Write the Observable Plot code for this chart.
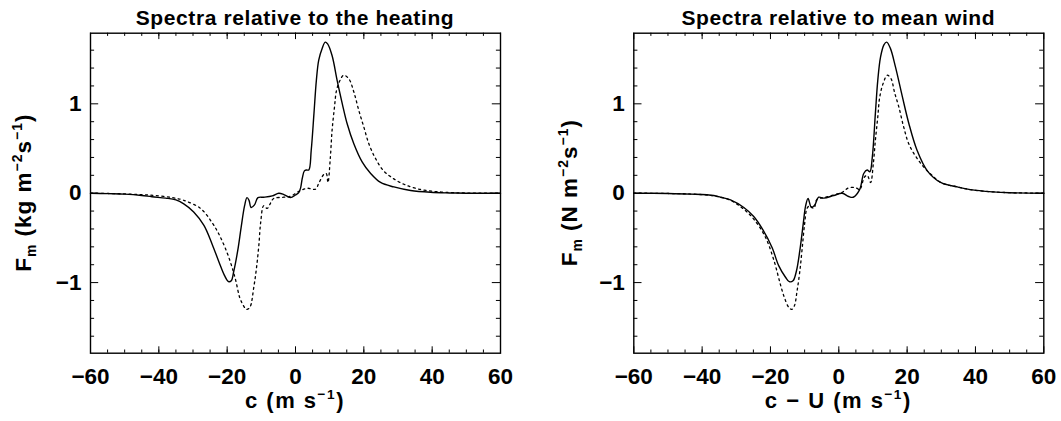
<!DOCTYPE html>
<html><head><meta charset="utf-8">
<script src="https://cdn.jsdelivr.net/npm/d3@7"></script>
<script src="https://cdn.jsdelivr.net/npm/@observablehq/plot@0.6"></script>
<style>
body{margin:0;background:#fff;}
#wrap{position:relative;width:1061px;height:421px;overflow:hidden;background:#fff;}
.panel{position:absolute;top:0;}
</style></head><body><div id="wrap"></div>
<script>
// ---- tick values ----
const xMajor = [-60, -40, -20, 0, 20, 40, 60];
const xMinor = d3.range(-55, 60, 5);
const yMajor = [-1, 0, 1];
const yMinor = [-1.6, -1.4, -1.2, -0.8, -0.6, -0.4, -0.2, 0.2, 0.4, 0.6, 0.8, 1.2, 1.4, 1.6];

// ---- left panel: spectra relative to the heating ----
const heatSolidC = [-60,-55,-50,-45,-42,-38,-35,-32.7,-29.8,-26.8,-24.4,-22.4,-20.8,-19.6,-18.8,-18.1,-16.9,-15.9,-14.9,-14.2,-13.6,-13.0,-12.0,-11.0,-9.3,-6.8,-4.9,-3.4,-1.5,0,1.0,1.5,2.0,2.6,3.2,3.9,4.6,5.4,6.1,6.8,7.8,8.7,9.4,10.7,12.2,13.7,15.1,17.1,19.5,22.0,24.9,28.8,33.7,39.5,45,50,60];
const heatSolidF = [0,-0.005,-0.01,-0.025,-0.04,-0.055,-0.075,-0.12,-0.21,-0.36,-0.57,-0.77,-0.92,-0.99,-0.98,-0.88,-0.64,-0.38,-0.14,-0.05,-0.08,-0.16,-0.13,-0.05,-0.045,-0.03,0.0,-0.015,-0.05,-0.02,0.01,0.06,0.17,0.25,0.26,0.26,0.48,0.89,1.26,1.49,1.62,1.69,1.67,1.54,1.26,1.0,0.78,0.55,0.35,0.22,0.12,0.07,0.03,0.01,0.003,0,0];
const heatDashC = [-60,-55,-50,-45,-41,-36,-32.7,-27.8,-24.4,-22.0,-19.5,-17.6,-16.3,-15.2,-14.4,-13.4,-12.2,-11.4,-10.7,-10.2,-9.3,-8.3,-7.3,-6.4,-3.4,-1.5,1.0,3.4,5.9,6.8,8.3,9.0,9.5,10.2,10.7,11.4,12.0,13.0,14.1,15.6,17.1,18.5,20.0,21.5,23.4,25.8,28.8,31.7,35.6,40.5,45,50,60];
const heatDashF = [0,-0.003,-0.008,-0.016,-0.026,-0.05,-0.08,-0.17,-0.33,-0.49,-0.72,-0.96,-1.17,-1.26,-1.3,-1.28,-1.05,-0.83,-0.57,-0.33,-0.14,-0.17,-0.11,-0.06,-0.045,-0.035,0.02,0.055,0.045,0.11,0.21,0.22,0.12,0.40,0.70,0.96,1.15,1.26,1.32,1.28,1.13,0.93,0.74,0.55,0.39,0.25,0.16,0.10,0.05,0.02,0.008,0.002,0];

// ---- right panel: spectra relative to mean wind ----
const windSolidC = [-60,-50,-43.4,-36.6,-34.6,-31.7,-27.8,-24.9,-22.2,-19.5,-17.6,-15.6,-14.5,-13.4,-12.4,-11.4,-10.4,-9.7,-9.0,-8.0,-7.0,-5.9,-4.4,-1.5,1.0,2.9,4.2,6.1,7.3,8.3,9.1,9.8,10.7,11.4,12.2,13.2,14.0,15.1,16.6,18.6,20.5,22.9,25.9,29.8,34.7,38.5,45,50,60];
const windSolidF = [0,-0.003,-0.01,-0.026,-0.045,-0.075,-0.16,-0.26,-0.41,-0.61,-0.81,-0.94,-0.99,-0.98,-0.87,-0.64,-0.34,-0.14,-0.06,-0.16,-0.13,-0.045,-0.055,-0.026,0.0,-0.037,-0.045,0.04,0.22,0.26,0.24,0.40,0.89,1.26,1.52,1.66,1.69,1.62,1.41,1.08,0.78,0.48,0.25,0.12,0.07,0.04,0.015,0.005,0];
const windDashC = [-60,-50,-43,-36.6,-31.7,-27.8,-24.9,-21.5,-19.0,-17.1,-15.9,-14.6,-13.8,-13.0,-12.2,-11.4,-10.7,-10.0,-9.3,-8.5,-7.3,-6.4,-4.4,-1.5,1.0,2.9,5.0,6.1,7.5,8.3,9.3,10.1,10.7,11.4,12.0,13.0,14.2,15.3,16.3,17.6,19.0,20.5,22.9,25.4,27.3,29.8,34.7,38.5,45,50,60];
const windDashF = [0,-0.003,-0.01,-0.03,-0.08,-0.18,-0.29,-0.49,-0.75,-1.02,-1.17,-1.28,-1.3,-1.26,-1.09,-0.87,-0.61,-0.34,-0.17,-0.14,-0.17,-0.07,-0.05,-0.02,0.01,0.06,0.06,0.04,0.18,0.2,0.12,0.33,0.59,0.85,1.08,1.23,1.32,1.28,1.13,0.96,0.74,0.55,0.39,0.27,0.2,0.12,0.07,0.04,0.015,0.006,0];

const FONT = "'Liberation Sans', Arial, Helvetica, sans-serif";
const fmt = d => d < 0 ? "\u2212" + Math.abs(d) : String(d);

function richText(sel, parts) {
  let shift = 0;
  parts.forEach(p => {
    const target = p.sub ? 5 : p.sup ? -9 : 0;
    const ts = sel.append("tspan").attr("dy", target - shift).text(p.t);
    if (p.sub || p.sup) ts.attr("font-size", "0.62em");
    shift = target;
  });
}

function makePanel({left, width, mLeft, mRight, solidC, solidF, dashC, dashF, title, xlabel, ylabel, ylabelX}) {
  const height = 421, mTop = 32.7, mBottom = 68.3;
  const iw = width - mLeft - mRight, ih = height - mTop - mBottom;
  const solid = solidC.map((c, i) => ({c, f: solidF[i]}));
  const dash = dashC.map((c, i) => ({c, f: dashF[i]}));
  const svg = Plot.plot({
    width, height, marginLeft: mLeft, marginRight: mRight, marginTop: mTop, marginBottom: mBottom,
    style: {fontFamily: FONT, fontSize: "22.5px", fontWeight: "bold", color: "black", background: "white", overflow: "visible"},
    x: {domain: [-60, 60], ticks: xMajor, tickSize: 0, tickPadding: 15, tickFormat: fmt, label: null},
    y: {domain: [-1.79, 1.79], ticks: yMajor, tickSize: 0, tickPadding: 9, tickFormat: fmt, label: null},
    marks: [
      Plot.ruleX(xMajor, {insetTop: ih - 6.4, stroke: "black", strokeWidth: 1}),
      Plot.ruleX(xMajor, {insetBottom: ih - 6.4, stroke: "black", strokeWidth: 1}),
      Plot.ruleX(xMinor, {insetTop: ih - 3.2, stroke: "black", strokeWidth: 1}),
      Plot.ruleX(xMinor, {insetBottom: ih - 3.2, stroke: "black", strokeWidth: 1}),
      Plot.ruleY(yMajor, {insetRight: iw - 8.2, stroke: "black", strokeWidth: 1}),
      Plot.ruleY(yMajor, {insetLeft: iw - 8.2, stroke: "black", strokeWidth: 1}),
      Plot.ruleY(yMinor, {insetRight: iw - 4.1, stroke: "black", strokeWidth: 1}),
      Plot.ruleY(yMinor, {insetLeft: iw - 4.1, stroke: "black", strokeWidth: 1}),
      Plot.line(dash, {x: "c", y: "f", stroke: "black", strokeWidth: 1.3, strokeDasharray: "2,3.5", curve: "catmull-rom"}),
      Plot.line(solid, {x: "c", y: "f", stroke: "black", strokeWidth: 1.4, curve: "catmull-rom"}),
      Plot.frame({stroke: "black", strokeWidth: 1.4})
    ]
  });
  const s = d3.select(svg);
  const cx = mLeft + iw / 2;
  s.append("text").attr("x", cx).attr("y", 25).attr("text-anchor", "middle")
    .attr("font-size", 21).attr("letter-spacing", "0.6px").attr("fill", "black").text(title);
  const xl = s.append("text").attr("x", cx).attr("y", 408).attr("text-anchor", "middle")
    .attr("font-size", 22).attr("letter-spacing", "1.5px").attr("fill", "black");
  richText(xl, xlabel);
  const yl = s.append("text").attr("transform", `translate(${ylabelX},${mTop + ih / 2}) rotate(-90)`)
    .attr("text-anchor", "middle").attr("font-size", 22.5).attr("letter-spacing", "1px").attr("fill", "black");
  richText(yl, ylabel);
  const div = document.createElement("div");
  div.className = "panel";
  div.style.left = left + "px";
  div.appendChild(svg);
  document.getElementById("wrap").appendChild(div);
}

makePanel({
  left: 0, width: 530, mLeft: 90, mRight: 30,
  solidC: heatSolidC, solidF: heatSolidF, dashC: heatDashC, dashF: heatDashF,
  title: "Spectra relative to the heating",
  xlabel: [{t: "c (m s"}, {t: "\u22121", sup: true}, {t: ")"}],
  ylabel: [{t: "F"}, {t: "m", sub: true}, {t: " (kg m"}, {t: "\u22122", sup: true}, {t: "s"}, {t: "\u22121", sup: true}, {t: ")"}],
  ylabelX: 31
});
makePanel({
  left: 530, width: 531, mLeft: 103.3, mRight: 17.7,
  solidC: windSolidC, solidF: windSolidF, dashC: windDashC, dashF: windDashF,
  title: "Spectra relative to mean wind",
  xlabel: [{t: "c \u2212 U (m s"}, {t: "\u22121", sup: true}, {t: ")"}],
  ylabel: [{t: "F"}, {t: "m", sub: true}, {t: " (N m"}, {t: "\u22122", sup: true}, {t: "s"}, {t: "\u22121", sup: true}, {t: ")"}],
  ylabelX: 47
});
</script></body></html>
